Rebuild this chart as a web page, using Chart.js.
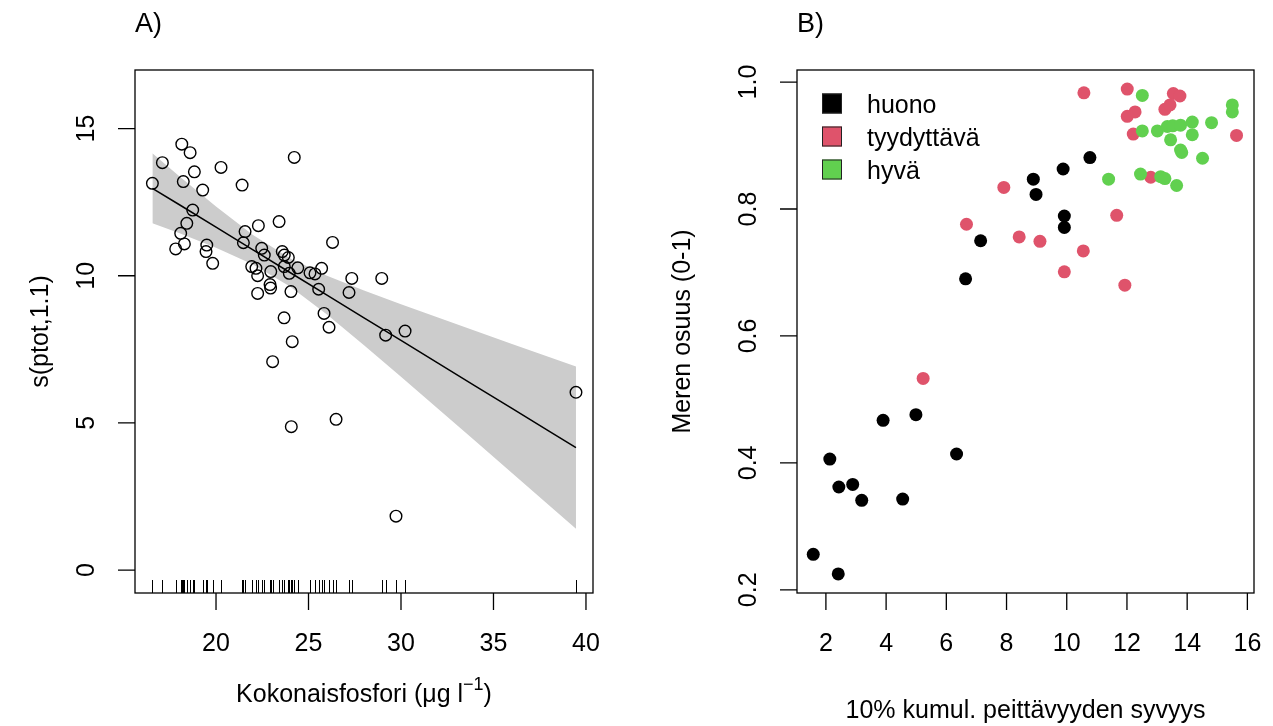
<!DOCTYPE html>
<html>
<head>
<meta charset="utf-8">
<script src="https://cdn.jsdelivr.net/npm/chart.js@4.4.0/dist/chart.umd.min.js"></script>
<style>
  body { margin: 0; background: #fff; }
  #wrap { position: relative; width: 1273px; height: 726px; }
  canvas { position: absolute; top: 0; }
  #c1 { left: 0; }
  #c2 { left: 640px; }
</style>
</head>
<body>
<div id="wrap">
  <canvas id="c1" width="640" height="726"></canvas>
  <canvas id="c2" width="633" height="726"></canvas>
</div>
<script>
// A) kokonaisfosfori vs s(ptot,1.1)
const ptot = [18.15, 18.6, 17.1, 18.83, 20.27, 24.23, 16.56, 18.23, 19.28, 21.41,
  18.74, 18.42, 18.09, 18.29, 17.82, 19.5, 19.46, 19.82, 21.57, 21.48,
  22.29, 23.41, 22.47, 22.61, 23.58, 23.69, 23.91, 21.93, 22.16, 23.69,
  24.42, 22.96, 22.25, 23.96, 25.08, 25.35, 25.71, 26.3, 22.92, 24.05,
  25.55, 22.25, 22.95, 27.34, 28.96, 27.19, 23.68, 25.84, 26.11, 29.17,
  30.22, 24.12, 23.06, 24.07, 26.49, 39.46, 29.73];
const sPtot = [14.47, 14.18, 13.84, 13.53, 13.68, 14.02, 13.14, 13.20, 12.91, 13.08,
  12.23, 11.78, 11.44, 11.08, 10.91, 11.04, 10.82, 10.42, 11.50, 11.12,
  11.70, 11.84, 10.93, 10.70, 10.82, 10.70, 10.62, 10.31, 10.25, 10.31,
  10.27, 10.14, 10.00, 10.08, 10.10, 10.06, 10.25, 11.13, 9.70, 9.46,
  9.54, 9.40, 9.58, 9.91, 9.91, 9.43, 8.57, 8.72, 8.25, 7.98,
  8.12, 7.76, 7.08, 4.87, 5.12, 6.04, 1.83];
// sovitettu käyrä ja luottamusvyö
const fitX     = [16.56, 18, 20, 22, 24, 26, 28, 30, 32, 34, 36, 38, 39.46];
const fitY     = [12.97, 12.42, 11.65, 10.88, 10.11, 9.34, 8.57, 7.80, 7.03, 6.26, 5.49, 4.72, 4.16];
const fitUpper = [14.16, 13.39, 12.35, 11.38, 10.59, 10.00, 9.50, 9.03, 8.58, 8.13, 7.68, 7.24, 6.92];
const fitLower = [11.78, 11.45, 10.95, 10.38, 9.63, 8.68, 7.64, 6.57, 5.48, 4.39, 3.30, 2.20, 1.40];
const ticksAx = [20, 25, 30, 35, 40];
const ticksAy = [0, 5, 10, 15];

// B) syvyys vs meren osuus
const huono = [[6.64, 0.690], [3.90, 0.467], [4.99, 0.476], [2.13, 0.406], [6.34, 0.414],
  [2.43, 0.362], [2.89, 0.366], [3.19, 0.341], [4.55, 0.343], [1.58, 0.256],
  [2.41, 0.225], [10.77, 0.881], [9.88, 0.863], [8.89, 0.847], [8.98, 0.823],
  [9.92, 0.789], [9.92, 0.771], [7.14, 0.750]];
const tyydyttava = [[10.57, 0.983], [12.01, 0.989], [13.54, 0.982], [13.76, 0.978], [12.27, 0.953],
  [12.01, 0.946], [13.26, 0.957], [13.43, 0.964], [12.21, 0.918], [15.64, 0.916],
  [12.79, 0.850], [7.91, 0.834], [6.67, 0.776], [8.42, 0.756], [9.11, 0.749],
  [10.55, 0.734], [11.66, 0.790], [9.92, 0.701], [11.93, 0.680], [5.23, 0.533]];
const hyva = [[12.51, 0.979], [15.5, 0.964], [15.5, 0.953], [12.51, 0.923], [13.01, 0.923],
  [13.34, 0.930], [13.52, 0.931], [13.78, 0.932], [14.17, 0.937], [14.81, 0.936],
  [13.45, 0.909], [14.17, 0.917], [13.78, 0.893], [13.82, 0.889], [14.51, 0.880],
  [11.39, 0.847], [12.45, 0.855], [13.12, 0.851], [13.26, 0.848], [13.65, 0.837]];
const ticksBx = [2, 4, 6, 8, 10, 12, 14, 16];
const ticksBy = [0.2, 0.4, 0.6, 0.8, 1.0];

const FONT = '"Liberation Sans", Arial, sans-serif';
const toXY = (xs, ys) => xs.map((x, i) => ({ x: x, y: ys[i] }));
const pairs = arr => arr.map(p => ({ x: p[0], y: p[1] }));

// R-tyyliset akselit, otsikot, rug ja selite
const rAxes = {
  id: 'rAxes',
  afterDraw(chart, args, o) {
    const ctx = chart.ctx, a = chart.chartArea;
    const sx = chart.scales.x, sy = chart.scales.y;
    ctx.save();
    ctx.strokeStyle = '#000';
    ctx.fillStyle = '#000';

    // rug
    if (o.rug) {
      ctx.lineWidth = 1;
      ctx.beginPath();
      o.rug.forEach(v => {
        const p = Math.round(sx.getPixelForValue(v)) + 0.5;
        ctx.moveTo(p, a.bottom);
        ctx.lineTo(p, a.bottom - 13);
      });
      ctx.stroke();
    }

    ctx.lineWidth = 1.3;
    ctx.strokeRect(a.left, a.top, a.right - a.left, a.bottom - a.top);
    ctx.beginPath();
    o.xTicks.forEach(v => {
      const p = sx.getPixelForValue(v);
      ctx.moveTo(p, a.bottom); ctx.lineTo(p, a.bottom + 17);
    });
    o.yTicks.forEach(v => {
      const p = sy.getPixelForValue(v);
      ctx.moveTo(a.left, p); ctx.lineTo(a.left - 17, p);
    });
    ctx.stroke();

    ctx.font = '25px ' + FONT;
    ctx.textAlign = 'center';
    ctx.textBaseline = 'middle';
    o.xTicks.forEach(v => ctx.fillText(String(v), sx.getPixelForValue(v), 644));
    o.yTicks.forEach(v => {
      ctx.save();
      ctx.translate(a.left - 48, sy.getPixelForValue(v));
      ctx.rotate(-Math.PI / 2);
      ctx.fillText(o.yDigits ? v.toFixed(o.yDigits) : String(v), 0, 0);
      ctx.restore();
    });

    // y-akselin otsikko
    ctx.save();
    ctx.translate(o.yTitleX, (a.top + a.bottom) / 2);
    ctx.rotate(-Math.PI / 2);
    ctx.fillText(o.yTitle, 0, 0);
    ctx.restore();

    // x-akselin otsikko (osat, yläindeksi mahdollinen)
    ctx.textBaseline = 'alphabetic';
    ctx.textAlign = 'left';
    const parts = o.xTitle;
    let total = 0;
    parts.forEach(pt => {
      ctx.font = (pt.sup ? '18px ' : '25px ') + FONT;
      pt.w = ctx.measureText(pt.t).width;
      total += pt.w;
    });
    let cx = (a.left + a.right) / 2 - total / 2;
    parts.forEach(pt => {
      ctx.font = (pt.sup ? '18px ' : '25px ') + FONT;
      ctx.fillText(pt.t, cx, o.xTitleY - (pt.sup ? 12 : 0));
      cx += pt.w;
    });

    // paneelin tunnus
    ctx.font = '27px ' + FONT;
    ctx.fillText(o.panel, a.left, 32);

    // selite
    if (o.legend) {
      ctx.font = '25px ' + FONT;
      chart.data.datasets.forEach((ds, i) => {
        const base = 113 + i * 33;
        ctx.fillStyle = ds.backgroundColor;
        ctx.fillRect(a.left + 25, base - 19.5, 20, 20);
        ctx.lineWidth = 1;
        ctx.strokeStyle = '#222';
        ctx.strokeRect(a.left + 25.5, base - 19, 19, 19);
        ctx.fillStyle = '#000';
        ctx.fillText(ds.label, a.left + 70, base);
      });
    }
    ctx.restore();
  }
};

const common = {
  responsive: false,
  animation: false,
  devicePixelRatio: 1,
  events: []
};

new Chart(document.getElementById('c1'), {
  type: 'scatter',
  data: {
    datasets: [
      {
        label: 'ptot',
        data: toXY(ptot, sPtot),
        pointStyle: 'circle',
        pointRadius: 5.8,
        borderWidth: 1.4,
        borderColor: '#000',
        backgroundColor: 'rgba(0,0,0,0)',
        order: 0
      },
      {
        label: 'fit',
        data: toXY(fitX, fitY),
        showLine: true,
        pointRadius: 0,
        borderColor: '#000',
        borderWidth: 1.5,
        order: 1
      },
      {
        label: 'upper',
        data: toXY(fitX, fitUpper),
        showLine: true,
        pointRadius: 0,
        borderWidth: 0,
        borderColor: 'rgba(0,0,0,0)',
        backgroundColor: '#cccccc',
        fill: '+1',
        order: 2
      },
      {
        label: 'lower',
        data: toXY(fitX, fitLower),
        showLine: true,
        pointRadius: 0,
        borderWidth: 0,
        borderColor: 'rgba(0,0,0,0)',
        order: 3
      }
    ]
  },
  options: Object.assign({}, common, {
    layout: { padding: { left: 0, right: 47, top: 70, bottom: 0 } },
    scales: {
      x: { type: 'linear', min: 15.62, max: 40.38, ticks: { display: false }, grid: { display: false }, border: { display: false },
           afterFit(s) { s.height = 133; } },
      y: { type: 'linear', min: -0.78, max: 16.99, ticks: { display: false }, grid: { display: false }, border: { display: false },
           afterFit(s) { s.width = 135; } }
    },
    plugins: {
      legend: { display: false },
      tooltip: { enabled: false },
      rAxes: {
        panel: 'A)',
        xTicks: ticksAx,
        yTicks: ticksAy,
        yTitle: 's(ptot,1.1)',
        yTitleX: 41,
        xTitle: [{ t: 'Kokonaisfosfori (\u03bcg l' }, { t: '\u22121', sup: true }, { t: ')' }],
        xTitleY: 702,
        rug: ptot
      }
    }
  }),
  plugins: [rAxes]
});

new Chart(document.getElementById('c2'), {
  type: 'scatter',
  data: {
    datasets: [
      { label: 'huono', data: pairs(huono), backgroundColor: '#000000', borderColor: '#000000', order: 2 },
      { label: 'tyydyttävä', data: pairs(tyydyttava), backgroundColor: '#DF536B', borderColor: '#DF536B', order: 1 },
      { label: 'hyvä', data: pairs(hyva), backgroundColor: '#61D04F', borderColor: '#61D04F', order: 0 }
    ].map(d => Object.assign(d, { pointRadius: 6.5, borderWidth: 0 }))
  },
  options: Object.assign({}, common, {
    layout: { padding: { left: 0, right: 19, top: 70, bottom: 0 } },
    scales: {
      x: { type: 'linear', min: 1.04, max: 16.22, ticks: { display: false }, grid: { display: false }, border: { display: false },
           afterFit(s) { s.height = 133; } },
      y: { type: 'linear', min: 0.195, max: 1.019, ticks: { display: false }, grid: { display: false }, border: { display: false },
           afterFit(s) { s.width = 157; } }
    },
    plugins: {
      legend: { display: false },
      tooltip: { enabled: false },
      rAxes: {
        panel: 'B)',
        xTicks: ticksBx,
        yTicks: ticksBy,
        yDigits: 1,
        yTitle: 'Meren osuus (0-1)',
        yTitleX: 43,
        xTitle: [{ t: '10% kumul. peittävyyden syvyys' }],
        xTitleY: 718,
        legend: true
      }
    }
  }),
  plugins: [rAxes]
});
</script>
</body>
</html>
